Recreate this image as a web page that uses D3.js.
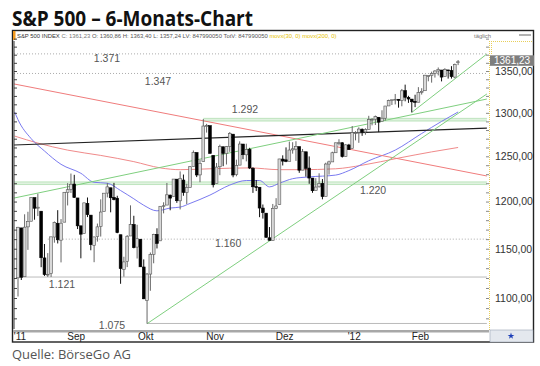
<!DOCTYPE html>
<html><head><meta charset="utf-8">
<script src="https://cdn.jsdelivr.net/npm/d3@7"></script>
<style>body{margin:0;background:#fff}svg{display:block}</style>
</head><body>
<script>
// ---------- data ----------
const days = ["2011-08-09","2011-08-10","2011-08-11","2011-08-12","2011-08-15","2011-08-16","2011-08-17","2011-08-18","2011-08-19","2011-08-22","2011-08-23","2011-08-24","2011-08-25","2011-08-26","2011-08-29","2011-08-30","2011-08-31",
"2011-09-01","2011-09-02","2011-09-06","2011-09-07","2011-09-08","2011-09-09","2011-09-12","2011-09-13","2011-09-14","2011-09-15","2011-09-16","2011-09-19","2011-09-20","2011-09-21","2011-09-22","2011-09-23","2011-09-26","2011-09-27","2011-09-28","2011-09-29","2011-09-30",
"2011-10-03","2011-10-04","2011-10-05","2011-10-06","2011-10-07","2011-10-10","2011-10-11","2011-10-12","2011-10-13","2011-10-14","2011-10-17","2011-10-18","2011-10-19","2011-10-20","2011-10-21","2011-10-24","2011-10-25","2011-10-26","2011-10-27","2011-10-28","2011-10-31",
"2011-11-01","2011-11-02","2011-11-03","2011-11-04","2011-11-07","2011-11-08","2011-11-09","2011-11-10","2011-11-11","2011-11-14","2011-11-15","2011-11-16","2011-11-17","2011-11-18","2011-11-21","2011-11-22","2011-11-23","2011-11-25","2011-11-28","2011-11-29","2011-11-30",
"2011-12-01","2011-12-02","2011-12-05","2011-12-06","2011-12-07","2011-12-08","2011-12-09","2011-12-12","2011-12-13","2011-12-14","2011-12-15","2011-12-16","2011-12-19","2011-12-20","2011-12-21","2011-12-22","2011-12-23","2011-12-27","2011-12-28","2011-12-29","2011-12-30",
"2012-01-03","2012-01-04","2012-01-05","2012-01-06","2012-01-09","2012-01-10","2012-01-11","2012-01-12","2012-01-13","2012-01-17","2012-01-18","2012-01-19","2012-01-20","2012-01-23","2012-01-24","2012-01-25","2012-01-26","2012-01-27","2012-01-30","2012-01-31",
"2012-02-01","2012-02-02","2012-02-03","2012-02-06","2012-02-07","2012-02-08","2012-02-09","2012-02-10","2012-02-13","2012-02-14","2012-02-15","2012-02-16","2012-02-17"];

const open = [1120.2,1171.8,1121.3,1172.9,1178.9,1204.2,1192.9,1189.6,1140.5,1123.6,1124.4,1162.2,1176.7,1158.9,1177.9,1209.8,1213.0,
1219.1,1203.9,1174.0,1165.9,1198.0,1185.4,1153.5,1162.6,1173.3,1189.4,1209.2,1215.0,1204.5,1203.6,1164.6,1128.8,1136.9,1163.3,1175.4,1151.7,1159.9,
1131.2,1097.4,1124.0,1144.1,1165.0,1158.2,1194.6,1196.2,1207.0,1205.7,1224.5,1200.8,1223.5,1209.9,1215.4,1238.7,1254.2,1229.2,1244.0,1284.4,1285.0,
1251.0,1219.6,1238.3,1260.8,1253.2,1261.1,1275.2,1229.6,1240.1,1263.9,1251.7,1257.8,1236.6,1216.2,1215.6,1193.0,1187.5,1161.4,1158.7,1192.6,1196.7,
1246.9,1246.0,1244.3,1257.2,1258.1,1260.9,1234.5,1255.1,1236.8,1225.7,1212.1,1216.1,1219.7,1205.7,1241.3,1243.7,1254.0,1265.0,1265.4,1249.8,1262.8,
1258.9,1277.0,1277.3,1280.9,1277.8,1280.8,1292.0,1292.5,1294.8,1290.2,1293.7,1308.1,1314.5,1315.3,1316.0,1314.4,1326.3,1318.3,1316.2,1313.5,
1312.5,1324.2,1326.2,1344.3,1344.3,1347.0,1350.0,1351.2,1343.1,1351.3,1350.5,1342.6,1360.9];

const high = [1172.9,1171.8,1186.3,1189.0,1204.5,1204.2,1208.5,1189.6,1154.9,1145.5,1162.4,1178.6,1190.7,1181.2,1210.3,1220.1,1230.7,
1229.3,1203.9,1174.0,1198.6,1204.4,1185.4,1162.5,1176.4,1202.4,1209.1,1220.1,1215.0,1220.4,1206.3,1164.6,1141.7,1164.2,1195.9,1184.7,1175.1,1159.9,
1139.0,1125.1,1146.1,1165.6,1171.4,1194.9,1199.2,1220.3,1207.5,1224.6,1224.5,1233.1,1229.6,1219.4,1239.0,1256.6,1254.2,1246.3,1292.7,1287.1,1285.0,
1251.0,1242.5,1263.2,1260.8,1261.7,1277.6,1275.2,1246.2,1267.0,1263.9,1264.3,1259.6,1237.7,1223.5,1215.6,1196.8,1187.5,1172.7,1197.4,1203.7,1247.1,
1251.1,1260.1,1266.7,1266.0,1267.1,1260.9,1258.3,1255.1,1249.9,1225.7,1225.6,1231.0,1224.6,1242.8,1245.1,1255.2,1265.4,1269.4,1265.9,1263.5,1264.1,
1284.6,1278.7,1283.1,1281.8,1282.0,1296.5,1293.8,1296.8,1294.8,1303.0,1308.1,1315.5,1315.4,1322.3,1316.0,1328.3,1333.5,1320.1,1316.2,1321.4,
1330.5,1329.2,1345.3,1344.4,1349.2,1351.0,1354.3,1351.2,1353.4,1351.3,1355.9,1359.0,1363.4];

const low = [1101.5,1118.0,1121.3,1148.8,1178.9,1180.5,1184.4,1131.0,1122.1,1121.1,1121.1,1156.3,1155.5,1135.9,1177.9,1195.8,1209.3,
1203.9,1170.6,1140.1,1165.9,1183.3,1148.4,1136.1,1157.4,1162.7,1189.4,1204.5,1188.4,1201.3,1166.2,1114.2,1121.4,1131.1,1163.3,1150.4,1139.9,1131.3,
1098.9,1074.8,1107.2,1135.0,1150.3,1158.2,1187.3,1196.2,1190.6,1205.7,1198.6,1191.5,1206.3,1197.3,1215.4,1238.7,1226.8,1221.1,1244.0,1277.0,1253.2,
1215.4,1219.6,1228.9,1238.9,1240.8,1255.0,1226.6,1227.7,1240.1,1246.7,1244.3,1235.7,1209.4,1211.4,1183.2,1181.7,1161.8,1158.7,1158.7,1191.8,1196.7,
1239.7,1243.4,1244.3,1253.0,1244.8,1231.5,1234.5,1227.3,1219.4,1209.5,1212.1,1215.2,1202.4,1205.7,1229.5,1243.7,1254.0,1262.3,1248.6,1249.8,1257.5,
1258.9,1268.1,1265.3,1273.3,1274.6,1280.8,1285.4,1285.8,1277.6,1290.2,1291.0,1308.1,1309.2,1309.9,1306.1,1307.7,1313.6,1311.7,1300.5,1306.7,
1312.5,1321.6,1326.2,1337.5,1335.9,1342.0,1344.6,1337.4,1343.1,1340.8,1340.8,1341.2,1357.2];

const close = [1172.5,1120.8,1172.6,1178.8,1204.5,1192.8,1193.9,1140.7,1123.5,1123.8,1162.4,1177.6,1159.3,1176.8,1210.1,1212.9,1218.9,
1204.4,1174.0,1165.2,1198.6,1185.9,1154.2,1162.3,1172.9,1188.7,1209.1,1216.0,1204.1,1202.1,1166.8,1129.6,1136.4,1163.0,1175.4,1151.1,1160.4,1131.4,
1099.2,1124.0,1144.0,1165.0,1155.5,1194.9,1195.5,1207.3,1203.7,1224.6,1200.9,1225.4,1209.9,1215.4,1238.3,1254.2,1229.1,1242.0,1284.6,1285.1,1253.3,
1218.3,1237.9,1261.2,1253.2,1261.1,1275.9,1229.1,1239.7,1263.9,1251.8,1257.8,1236.9,1216.1,1215.7,1193.0,1188.0,1161.8,1158.7,1192.6,1195.2,1247.0,
1244.6,1244.3,1257.1,1258.5,1261.0,1234.4,1255.2,1236.5,1225.7,1211.8,1215.8,1219.7,1205.4,1241.3,1243.7,1254.0,1265.3,1265.4,1249.6,1263.0,1257.6,
1277.1,1277.3,1281.1,1277.8,1280.7,1292.1,1292.5,1295.5,1289.1,1293.7,1308.0,1314.5,1315.4,1316.0,1314.7,1326.1,1318.4,1316.3,1313.0,1312.4,
1324.1,1325.5,1344.9,1344.3,1347.1,1350.0,1352.0,1342.6,1351.8,1350.5,1343.2,1358.0,1361.23];

// moving averages: [trading-day index, value]
const maBlueIdx = [-1,0,4,8,13,19,23,27,31,35,38,42,46,49,52,58,64,69,73,76,79,83,88,96,100,106,114,122,128,133];
const maBlueVal = [1301,1292,1270,1256,1241,1231,1221,1220,1212,1203,1196,1190,1193,1194,1198,1207,1218,1223,1223,1216,1220,1225,1227,1229,1234,1245,1257,1276,1290,1301];
const maRedIdx = [-1,6,15,25,35,43,49,58,70,79,85,96,104,115,125,133];
const maRedVal = [1273,1265,1257,1251,1244,1237,1235,1236,1237,1235,1235,1236,1240,1248,1255,1260];

// trend lines: start/end index and value
const trendNames = ["red","black","green1","green2","green3"];
const trendX0 = [-1.2,-1.2,39,-1.2,119];
const trendY0 = [1334.3,1262.8,1074.8,1203.8,1300.5];
const trendX1 = [141.7,141.7,141.7,141.7,141.7];
const trendY1 = [1228.0,1282.3,1322.3,1316.3,1370.9];

// horizontal marks
const levelVal = [1371,1347,1292,1220,1160,1121,1075];
const levelLabel = ["1.371","1.347","1.292","1.220","1.160","1.121","1.075"];
const levelStartIdx = [-1.2,-1.2,56,-1.2,9,-0.4,39];
const levelLabelIdx = [26.9,42.3,68.6,107.3,63.5,13.3,28.4];
const levelKind = ["dot","dot","band","band","dot","solid","solid"];

const yTicks = [1100,1150,1200,1250,1300,1350];
const monthIdx = [0,17,38,59,80,101,121];
const monthLabel = ["'11","Sep","Okt","Nov","Dez","'12","Feb"];
const lastPrice = 1361.23;

// ---------- drawing ----------
const W = 540, H = 366;
const P = {l:14, r:489, t:41, b:329};
const svg = d3.select("body").append("svg").attr("width",W).attr("height",H);

const x = d3.scaleLinear().domain([0,133]).range([18, 18 + 133*3.309]);
const y = d3.scaleLog().domain([1100,1350]).range([298,71]);

// title
svg.append("text").attr("x",12).attr("y",26)
  .attr("font-family","'Open Sans',sans-serif").attr("font-weight",700).attr("font-size",21)
  .attr("textLength",241).attr("lengthAdjust","spacingAndGlyphs").attr("fill","#111")
  .text("S&P 500 \u2013 6-Monats-Chart");
svg.append("text").attr("x",12).attr("y",359)
  .attr("font-family","'Open Sans',sans-serif").attr("font-size",13)
  .attr("textLength",119).attr("lengthAdjust","spacingAndGlyphs").attr("fill","#555")
  .text("Quelle: BörseGo AG");

// frame
svg.append("rect").attr("x",12.5).attr("y",30.5).attr("width",521).attr("height",311.5)
  .attr("fill","#fff").attr("stroke","#222").attr("stroke-width",1.4);
svg.append("rect").attr("x",13).attr("y",31).attr("width",2.5).attr("height",9).attr("fill","#f39a1e");

// header line
const hdr = svg.append("text").attr("x",17).attr("y",37.5)
  .attr("font-family","'Liberation Sans',Arial,sans-serif").attr("font-size",5.9);
hdr.append("tspan").attr("fill","#333").text("S&P 500 INDEX ");
hdr.append("tspan").attr("fill","#777").text("C: 1361,23 ");
hdr.append("tspan").attr("fill","#555").text("O: 1360,86 H: 1363,40 L: 1357,24 LV: 847990050 TotV: 847990050 ");
hdr.append("tspan").attr("fill","#e6c200").text("movx(30, 0) movx(200, 0)");
svg.append("text").attr("x",474).attr("y",37.5).attr("font-family","'Liberation Sans',Arial,sans-serif")
  .attr("font-size",5.9).attr("fill","#777").text("täglich");
svg.append("line").attr("x1",519).attr("x2",531).attr("y1",35).attr("y2",35).attr("stroke","#999").attr("stroke-width",1.5);

// axis panel borders (yellow dotted)
svg.append("line").attr("x1",P.r+0.5).attr("x2",P.r+0.5).attr("y1",P.t).attr("y2",P.b+1)
  .attr("stroke","#e8cf5a").attr("stroke-dasharray","1,1");
svg.append("line").attr("x1",P.r+2).attr("x2",533).attr("y1",P.t+0.5).attr("y2",P.t+0.5)
  .attr("stroke","#e8cf5a").attr("stroke-dasharray","1,1");
svg.append("line").attr("x1",P.r+2.5).attr("x2",P.r+2.5).attr("y1",P.t).attr("y2",55)
  .attr("stroke","#e8cf5a").attr("stroke-dasharray","1,1");

// clip
svg.append("clipPath").attr("id","clip").append("rect")
  .attr("x",P.l).attr("y",P.t).attr("width",P.r-P.l).attr("height",P.b-P.t);
const g = svg.append("g").attr("clip-path","url(#clip)");

// minor ticks on both plot edges
const minor = d3.range(1080,1391,10);
svg.append("g").attr("transform",`translate(${P.l},0)`)
  .call(d3.axisRight(y).tickValues(minor).tickSize(3).tickFormat(""))
  .call(a=>a.select(".domain").remove())
  .call(a=>a.selectAll("line").attr("stroke","#444"));
svg.append("g").attr("transform",`translate(${P.r},0)`)
  .call(d3.axisLeft(y).tickValues(minor).tickSize(3).tickFormat(""))
  .call(a=>a.select(".domain").remove())
  .call(a=>a.selectAll("line").attr("stroke","#888"));
svg.append("line").attr("x1",P.l).attr("x2",P.l).attr("y1",P.t).attr("y2",P.b).attr("stroke","#333").attr("stroke-width",1);

// horizontal levels
const hl = d3.range(levelVal.length).map(i=>({v:levelVal[i],s:levelStartIdx[i],k:levelKind[i],lab:levelLabel[i],li:levelLabelIdx[i]}));
hl.forEach(d=>{
  const x0 = x(d.s), x1 = x(141.7), yy = y(d.v);
  if(d.k==="dot"){
    g.append("line").attr("x1",x0).attr("x2",x1).attr("y1",yy).attr("y2",yy)
      .attr("stroke","#aaa").attr("stroke-dasharray","1,2");
  } else if(d.k==="solid"){
    g.append("line").attr("x1",x0).attr("x2",x1).attr("y1",yy).attr("y2",yy).attr("stroke","#bbb");
  } else {
    g.append("line").attr("x1",x0).attr("x2",x1).attr("y1",yy).attr("y2",yy).attr("stroke","#e0f2e0").attr("stroke-width",3);
    g.append("line").attr("x1",x0).attr("x2",x1).attr("y1",yy-1.3).attr("y2",yy-1.3).attr("stroke","#acdcac").attr("stroke-width",0.7);
    g.append("line").attr("x1",x0).attr("x2",x1).attr("y1",yy+1.3).attr("y2",yy+1.3).attr("stroke","#acdcac").attr("stroke-width",0.7);
  }
});
const labDy = {"1.371":4,"1.347":7.5,"1.292":-10,"1.220":7,"1.160":4.5,"1.121":7,"1.075":1.5};
svg.append("g").selectAll("text").data(hl).join("text")
  .attr("x",d=>x(d.li)).attr("y",d=>y(d.v)+labDy[d.lab]).attr("dy","0.35em")
  .attr("text-anchor","middle").attr("font-family","'Liberation Sans',Arial,sans-serif")
  .attr("font-size",10.5).attr("fill","#555").text(d=>d.lab);

// moving averages
const maLine = d3.line().x(d=>x(d[0])).y(d=>y(d[1])).curve(d3.curveMonotoneX);
g.append("path").datum(maRedIdx.map((v,i)=>[v,maRedVal[i]])).attr("d",maLine)
  .attr("fill","none").attr("stroke","#f08a8a").attr("stroke-width",1);
g.append("path").datum(maBlueIdx.map((v,i)=>[v,maBlueVal[i]])).attr("d",maLine)
  .attr("fill","none").attr("stroke","#7a7af0").attr("stroke-width",1);

// trend lines
const trendColor = {red:"#f07c7c",black:"#222",green1:"#7fcf7f",green2:"#7fcf7f",green3:"#7fcf7f"};
trendNames.forEach((n,i)=>{
  g.append("line").attr("x1",x(trendX0[i])).attr("y1",y(trendY0[i]))
    .attr("x2",x(trendX1[i])).attr("y2",y(trendY1[i]))
    .attr("stroke",trendColor[n]).attr("stroke-width",n==="black"?1.2:1);
});

// candles
const candles = days.map((d,i)=>({i,o:open[i],h:high[i],l:low[i],c:close[i]}));
const cg = g.append("g");
cg.selectAll("line").data(candles).join("line")
  .attr("x1",d=>x(d.i)).attr("x2",d=>x(d.i))
  .attr("y1",d=>y(d.h)).attr("y2",d=>y(d.l))
  .attr("stroke",d=>d.c>=d.o?"#666":"#111").attr("stroke-width",1);
cg.selectAll("rect").data(candles).join("rect")
  .attr("x",d=>x(d.i)-1.4).attr("width",2.8)
  .attr("y",d=>y(Math.max(d.o,d.c)))
  .attr("height",d=>Math.max(0.8,Math.abs(y(d.o)-y(d.c))))
  .attr("fill",d=>d.c>=d.o?"#d9d9d9":"#000")
  .attr("stroke",d=>d.c>=d.o?"#555":"#000").attr("stroke-width",0.6);

// right price axis
svg.append("g").attr("transform",`translate(${P.r},0)`)
  .call(d3.axisRight(y).tickValues(yTicks).tickSize(0).tickPadding(6)
    .tickFormat(v=>d3.format(".2f")(v).replace(".",",")))
  .call(a=>a.select(".domain").remove())
  .call(a=>a.selectAll("text").attr("font-family","'Liberation Sans',Arial,sans-serif")
    .attr("font-size",10.5).attr("fill","#333"));
svg.append("rect").attr("x",P.r+1).attr("y",y(lastPrice)-6.5).attr("width",44).attr("height",10.5).attr("fill","#7e7e7e");
svg.append("text").attr("x",P.r+5).attr("y",y(lastPrice)-1.3).attr("dy","0.35em")
  .attr("font-family","'Liberation Sans',Arial,sans-serif").attr("font-size",10).attr("fill","#fff")
  .text(d3.format(".2f")(lastPrice).replace(".",","));

// bottom time axis
svg.append("rect").attr("x",13).attr("y",P.b+1).attr("width",P.r-13).attr("height",2.5).attr("fill","#a8a8a8");
svg.append("g").attr("transform",`translate(0,${P.b+3})`)
  .call(d3.axisBottom(x).tickValues(monthIdx).tickSize(0).tickPadding(1)
    .tickFormat((v,i)=>monthLabel[i]))
  .call(a=>a.select(".domain").remove())
  .call(a=>a.selectAll("text").attr("dx",1.5).attr("font-family","'Liberation Sans',Arial,sans-serif")
    .attr("font-size",10).attr("fill","#222"));
// corner box
svg.append("rect").attr("x",P.r+1).attr("y",P.b+1).attr("width",43).attr("height",12)
  .attr("fill","#e4e8ee").attr("stroke","#9aa4b4").attr("stroke-width",0.6);
svg.append("path").attr("d",d3.symbol(d3.symbolStar,14)()).attr("transform",`translate(${P.r+22},${P.b+7})`).attr("fill","#1d3fb8");
</script>
</body></html>
